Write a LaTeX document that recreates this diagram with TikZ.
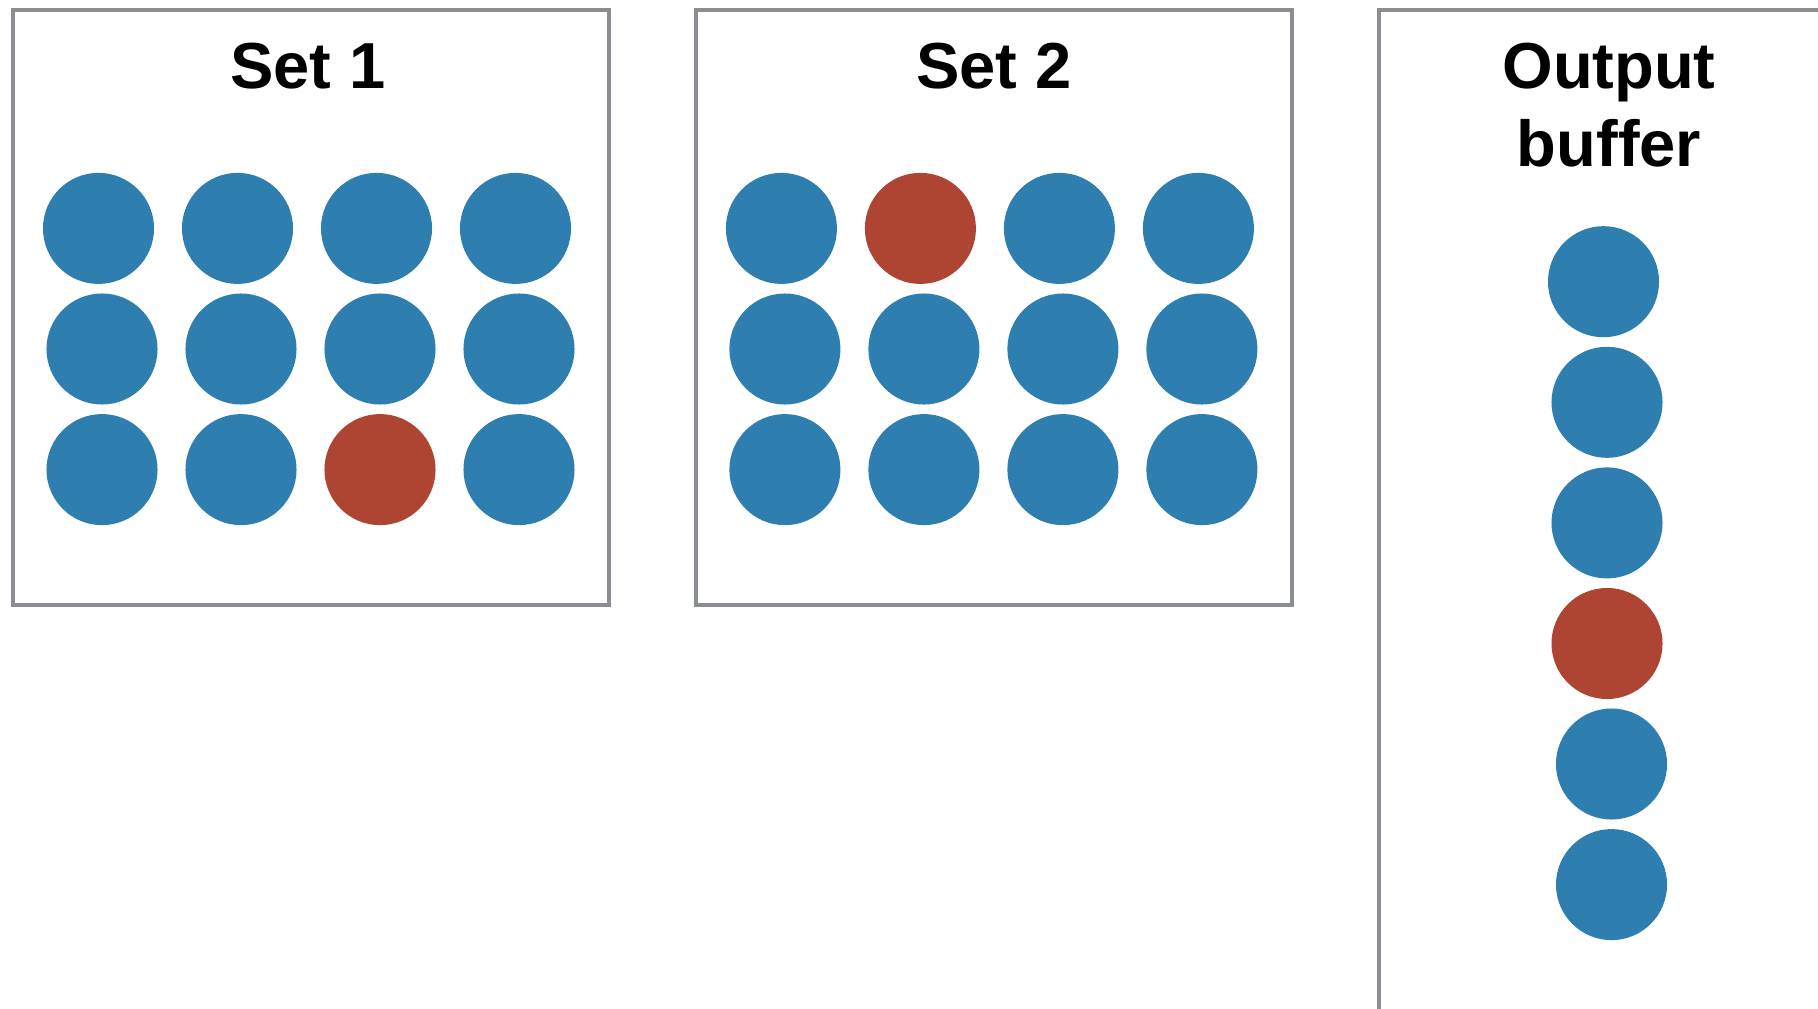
\documentclass[tikz,border=0pt]{standalone}
\usepackage{fontspec}
\setmainfont{Liberation Sans}
\usepackage{xcolor}
\usepackage{tikz}

\definecolor{dotblue}{HTML}{2F7EB0}
\definecolor{dotred}{HTML}{AE4532}
\definecolor{framegray}{HTML}{8A8E93}

\begin{document}
\begin{tikzpicture}[
                x=0.01cm, y=-0.01cm,
                frame/.style={draw=framegray, line width=1.2pt},
                title/.style={font=\bfseries\fontsize{18.5}{22}\selectfont, align=center},
                dot/.style={circle, minimum size=1.11cm, inner sep=0pt},
                bluedot/.style={dot, fill=dotblue},
                reddot/.style={dot, fill=dotred}
            ]
                \useasboundingbox (0,0) rectangle (1818,1009);
                \clip (0,0) rectangle (1818,1009);

                % the three frames
                \draw[frame] (13,10) rectangle (609,605);
                \draw[frame] (696,10) rectangle (1292,605);
                \draw[frame] (1379,1100) -- (1379,10) -- (1900,10);

                \node[title] (set1) at (308,66) {Set 1};
                \node[title] (set2) at (994,66) {Set 2};
                \node[title] (outbuf) at (1609,105) {Output\\buffer};

                % set 1: red one in row 3, column 3
                \foreach \r in {1,2,3} {
                    \foreach \c in {1,2,3,4} {
                        \pgfmathsetmacro{\xoff}{\r==1 ? 0 : 3.5}
                        \ifnum\r\c=33
                            \node[reddot] (a\r\c) at (98.5+139*\c-139+\xoff, 228.4+120.6*\r-120.6) {};
                        \else
                            \node[bluedot] (a\r\c) at (98.5+139*\c-139+\xoff, 228.4+120.6*\r-120.6) {};
                        \fi
                    }
                }

                % set 2: red one in row 1, column 2
                \foreach \r in {1,2,3} {
                    \foreach \c in {1,2,3,4} {
                        \pgfmathsetmacro{\xoff}{\r==1 ? 0 : 3.5}
                        \ifnum\r\c=12
                            \node[reddot] (b\r\c) at (781.4+139*\c-139+\xoff, 228.4+120.6*\r-120.6) {};
                        \else
                            \node[bluedot] (b\r\c) at (781.4+139*\c-139+\xoff, 228.4+120.6*\r-120.6) {};
                        \fi
                    }
                }

                % output buffer
                \node[bluedot] (o1) at (1603.5,281.7) {};
                \node[bluedot] (o2) at (1607,402.3) {};
                \node[bluedot] (o3) at (1607,522.9) {};
                \node[reddot]  (o4) at (1607,643.5) {};
                \node[bluedot] (o5) at (1611.5,764) {};
                \node[bluedot] (o6) at (1611.5,884.6) {};
            \end{tikzpicture}
\end{document}
